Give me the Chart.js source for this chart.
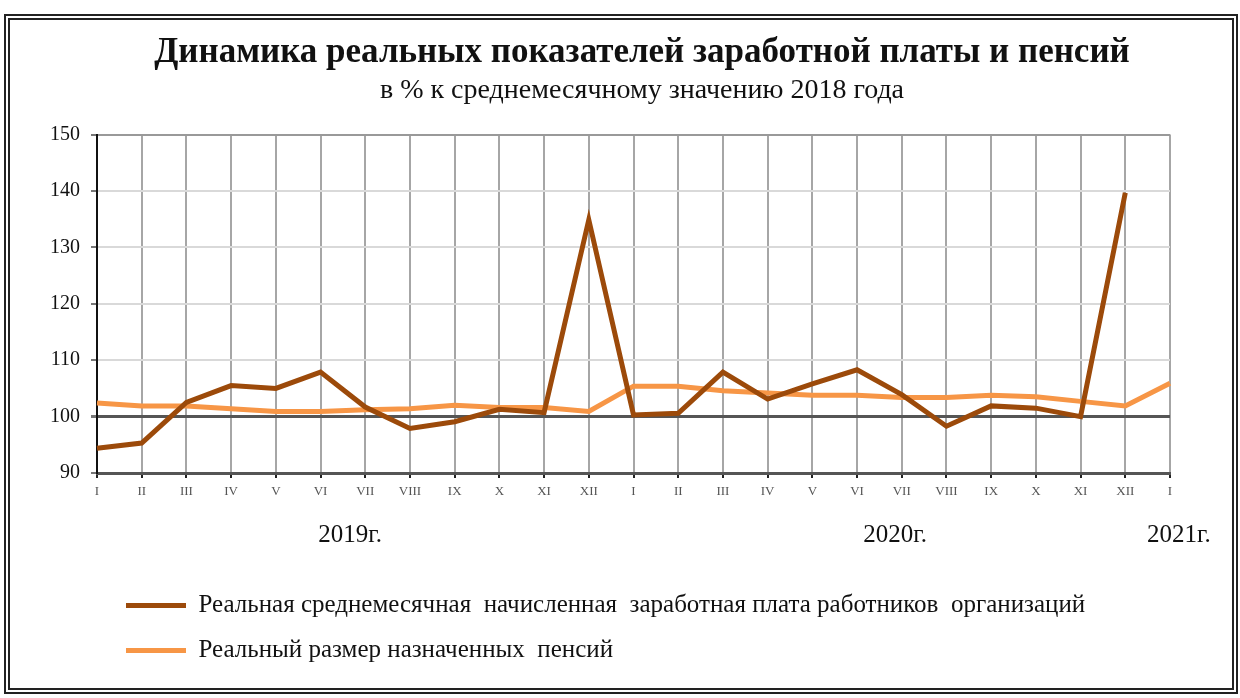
<!DOCTYPE html>
<html lang="ru">
<head>
<meta charset="utf-8">
<script src="https://cdn.jsdelivr.net/npm/chart.js@4/dist/chart.umd.min.js"></script>
<style>
  html, body { margin: 0; padding: 0; background: #fff; }
  #frame {
    position: absolute; left: 4px; top: 14px; width: 1234px; height: 680px;
    box-sizing: border-box; border: 6px double #222;
  }
  #wrap { position: absolute; left: 0; top: 0; width: 1240px; height: 698px; }
</style>
</head>
<body>
<div id="frame"></div>
<div id="wrap"><canvas id="lineChart" width="1240" height="698"></canvas></div>
<script>
// Данные графика
const months = ['I', 'II', 'III', 'IV', 'V', 'VI', 'VII', 'VIII', 'IX', 'X', 'XI', 'XII',
                'I', 'II', 'III', 'IV', 'V', 'VI', 'VII', 'VIII', 'IX', 'X', 'XI', 'XII', 'I'];
const wages = [94.4, 95.3, 102.5, 105.5, 105.0, 107.9, 101.7, 97.9, 99.1, 101.3, 100.7, 134.9,
               100.3, 100.6, 107.9, 103.1, 105.8, 108.3, 103.9, 98.3, 101.9, 101.5, 100.0, 139.7];
const pensions = [102.4, 101.9, 101.9, 101.4, 100.9, 100.9, 101.2, 101.4, 102.0, 101.6, 101.6, 100.9,
                  105.4, 105.4, 104.6, 104.2, 103.8, 103.8, 103.4, 103.4, 103.8, 103.5, 102.7, 101.9, 105.9];
const yearLabels = ['2019г.', '2020г.', '2021г.'];
const yTicks = [90, 100, 110, 120, 130, 140, 150];

const serif = "'Liberation Serif', 'Times New Roman', serif";

// подписи годов под осью
const yearPlugin = {
  id: 'years',
  afterDraw(chart) {
    const x = chart.scales.x;
    const at = [5.66, 17.85, 24.2];
    const ctx = chart.ctx;
    ctx.save();
    ctx.font = '25px ' + serif;
    ctx.fillStyle = '#111';
    ctx.textAlign = 'center';
    ctx.textBaseline = 'middle';
    yearLabels.forEach((t, i) => ctx.fillText(t, x.getPixelForValue(at[i]), 535));
    ctx.restore();
  }
};

// сдвиг заголовков и легенды
const shiftBoxes = {
  id: 'shiftBoxes',
  beforeDraw(chart) {
    chart.boxes.forEach(b => {
      if (b.position === 'top') { b.left = 114; b.right = 1170; }
    });
    chart.legend.left = 106;
  }
};

const ctx = document.getElementById('lineChart').getContext('2d');
new Chart(ctx, {
  type: 'line',
  data: {
    labels: months,
    datasets: [{
      label: 'Реальная среднемесячная  начисленная  заработная плата работников  организаций',
      data: wages,
      borderColor: '#9c4a0a',
      backgroundColor: '#9c4a0a',
      borderWidth: 5,
      pointRadius: 0,
      tension: 0
    }, {
      label: 'Реальный размер назначенных  пенсий',
      data: pensions,
      borderColor: '#f79646',
      backgroundColor: '#f79646',
      borderWidth: 5,
      pointRadius: 0,
      tension: 0
    }]
  },
  options: {
    responsive: false,
    animation: false,
    layout: {
      padding: { top: 18, left: 40, right: 70, bottom: 25 }
    },
    plugins: {
      title: {
        display: true,
        text: 'Динамика реальных показателей заработной платы и пенсий',
        color: '#111',
        font: { family: serif, size: 35, weight: 'bold' },
        padding: { top: 14, bottom: 0 }
      },
      subtitle: {
        display: true,
        text: 'в % к среднемесячному значению 2018 года',
        color: '#111',
        font: { family: serif, size: 28 },
        padding: { top: 0, bottom: 27 }
      },
      legend: {
        position: 'bottom',
        align: 'start',
        labels: {
          boxWidth: 60,
          boxHeight: 5,
          padding: 20,
          color: '#111',
          font: { family: serif, size: 25 },
          generateLabels: chart => Chart.defaults.plugins.legend.labels.generateLabels(chart)
            .map(l => ({ ...l, lineWidth: 0 }))
        }
      },
      tooltip: { enabled: false }
    },
    scales: {
      x: {
        afterFit: s => { s.height = 100; },
        grid: {
          color: '#a6a6a6',
          lineWidth: 2,
          tickColor: '#222',
          tickLength: 5
        },
        border: { color: '#555', width: 3 },
        ticks: {
          color: '#555',
          padding: 6,
          maxRotation: 0,
          autoSkip: false,
          font: { family: serif, size: 13 }
        }
      },
      y: {
        min: 90,
        max: 150,
        afterFit: s => { s.width = 57; },
        afterBuildTicks: s => { s.ticks = yTicks.map(v => ({ value: v })); },
        grid: {
          color: c => c.tick.value === 100 ? '#555' : (c.tick.value === 150 ? '#999' : '#d9d9d9'),
          lineWidth: c => c.tick.value === 100 ? 3 : 2,
          tickColor: '#777',
          tickLength: 6
        },
        border: { color: '#111', width: 2 },
        ticks: {
          color: '#111',
          padding: 11,
          font: { family: serif, size: 20 }
        }
      }
    }
  },
  plugins: [yearPlugin, shiftBoxes]
});
</script>
</body>
</html>
